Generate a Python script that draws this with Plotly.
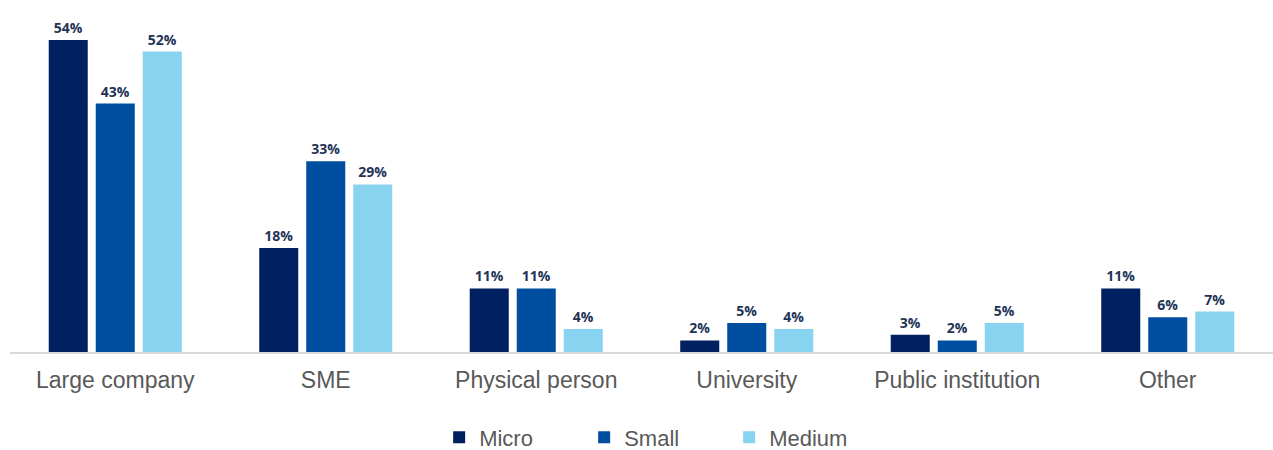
import plotly.graph_objects as go

categories = ["Large company", "SME", "Physical person", "University", "Public institution", "Other"]
micro = [0.54, 0.18, 0.11, 0.02, 0.03, 0.11]
small = [0.43, 0.33, 0.11, 0.05, 0.02, 0.06]
medium = [0.52, 0.29, 0.04, 0.04, 0.05, 0.07]

series = [("Micro", micro, "#002060"), ("Small", small, "#004EA0"), ("Medium", medium, "#88D3F0")]

fig = go.Figure()
for name, vals, color in series:
    fig.add_trace(go.Bar(
        x=categories, y=vals, name=name, marker=dict(color=color, line=dict(width=0)),
        text=[f"<b>{v*100:.0f}%</b>" for v in vals], textposition="outside",
        textfont=dict(family="Open Sans", size=14, color="#1F3457"),
        cliponaxis=False, textangle=0,
    ))

fig.update_layout(
    width=1273, height=450,
    margin=dict(l=10, r=0, t=10, b=98, autoexpand=False),
    paper_bgcolor="white", plot_bgcolor="white",
    barmode="group", bargap=0.33, bargroupgap=0.17,
    font=dict(family="Liberation Sans, Arial", color="#595959"),
    xaxis=dict(showline=True, linecolor="#D9D9D9", linewidth=2, tickfont=dict(size=23, color="#595959"),
               ticks="", showgrid=False, automargin=False, ticklabelstandoff=6),
    yaxis=dict(visible=False, range=[0, 0.592], showgrid=False, automargin=False),
    legend=dict(orientation="h", x=0.512, xanchor="center", y=-0.25, yanchor="middle",
                font=dict(size=22, color="#595959"), itemwidth=30, traceorder="normal",
                entrywidth=100),
)
fig.write_html("out.html", post_script="document.body.style.margin='0';",
               config={"displayModeBar": False})
